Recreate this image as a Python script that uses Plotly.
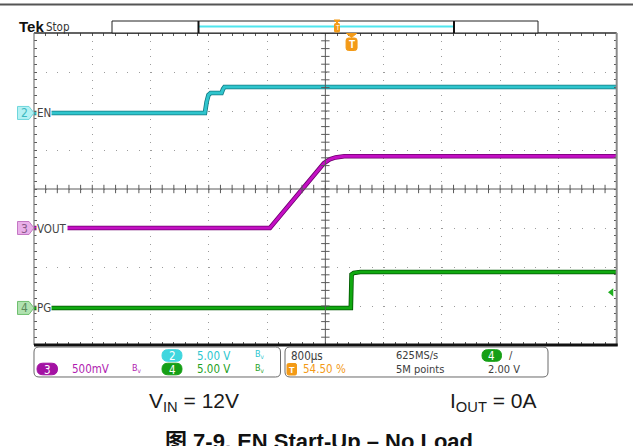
import numpy as np
import plotly.graph_objects as go

W, H = 633, 446

# Timebase / display
TIME_PER_DIV = 0.8          # ms per division (800 µs)
N_XDIV, N_YDIV = 10, 8
TRIGGER_PCT = 54.50         # trigger position, % of record

# Channel settings: volts/div and vertical position (divisions)
EN_SCALE, EN_POS = 5.0, 1.95
VOUT_SCALE, VOUT_POS = 0.5, -1.0
PG_SCALE, PG_POS = 5.0, -3.05
TRIG_LEVEL = 2.0            # V, on PG (ch4)

# Waveforms: time in ms relative to trigger, value in volts
EN_T = [-4.36, -2.013, -1.99, -1.965, -1.935, -1.785, -1.765, -1.745, 3.64]
EN_V = [0.0, 0.0, 1.4, 2.3, 2.56, 2.56, 3.05, 3.33, 3.33]

VOUT_T = [-4.36, -1.121, -0.38, -0.30, -0.22, -0.10, 3.64]
VOUT_V = [0.0, 0.0, 0.83, 0.88, 0.905, 0.92, 0.92]

PG_T = [-4.36, -0.01, 0.0, 0.03, 0.12, 3.64]
PG_V = [0.0, 0.0, 4.3, 4.5, 4.6, 4.6]

# Screen geometry (pixels)
X0, X1, Y0, Y1 = 34.0, 616.7, 33.0, 345.0

T_START = -TRIGGER_PCT / 100 * N_XDIV * TIME_PER_DIV
T_END = T_START + N_XDIV * TIME_PER_DIV
T_CENTER = T_START + N_XDIV / 2 * TIME_PER_DIV

UI_FONT = "Liberation Sans Narrow, DejaVu Sans Condensed, Liberation Sans, Arial"
DOC_FONT = "Liberation Sans, Arial, Noto Sans CJK SC"
UI_SIZE = 11

CYAN_TXT = "#2cc6cf"
MAG_TXT = "#b01cb0"
GRN_TXT = "#1f9f1f"
ORANGE = "#f39a17"
GRAY_TXT = "#3c3c3c"


def px(x):
    return x / W


def py(y):
    return 1 - y / H


def to_div(volts, scale, pos):
    return [v / scale + pos for v in volts]


def div_to_pix_y(d):
    return Y0 + (N_YDIV / 2 - d) * (Y1 - Y0) / N_YDIV


def time_to_pix_x(t):
    return X0 + (t - T_START) / (T_END - T_START) * (X1 - X0)


def pix_x_to_time(x):
    return T_START + (x - X0) / (X1 - X0) * (T_END - T_START)


def rrect_path(x0, y0, x1, y1, r):
    pts = [
        ("M", x0 + r, y0), ("L", x1 - r, y0), ("Q", x1, y0, x1, y0 + r),
        ("L", x1, y1 - r), ("Q", x1, y1, x1 - r, y1), ("L", x0 + r, y1),
        ("Q", x0, y1, x0, y1 - r), ("L", x0, y0 + r), ("Q", x0, y0, x0 + r, y0),
    ]
    out = []
    for p in pts:
        cmd = p[0]
        coords = p[1:]
        s = []
        for i in range(0, len(coords), 2):
            s.append(f"{px(coords[i]):.5f},{py(coords[i + 1]):.5f}")
        out.append(cmd + " ".join(s))
    return " ".join(out) + " Z"


def poly_path(points):
    s = "M" + " L".join(f"{px(x):.5f},{py(y):.5f}" for x, y in points)
    return s + " Z"


def text_at(text, x, y, color, size, family=UI_FONT, xanchor="left", bg=None):
    a = dict(text=text, x=px(x), y=py(y), xref="paper", yref="paper",
             xanchor=xanchor, yanchor="middle", showarrow=False,
             font=dict(family=family, size=size, color=color))
    if bg:
        a["bgcolor"] = bg
        a["borderpad"] = 0
    return a


fig = go.Figure()

# Waveforms: a dark edge under a bright core, as on the scope display
channels = [
    (EN_T, to_div(EN_V, EN_SCALE, EN_POS), "#137a83", "#2fc5cd"),
    (VOUT_T, to_div(VOUT_V, VOUT_SCALE, VOUT_POS), "#6e006e", "#c40fc4"),
    (PG_T, to_div(PG_V, PG_SCALE, PG_POS), "#005500", "#10a910"),
]
for t, d, edge, core in channels:
    fig.add_trace(go.Scatter(x=t, y=d, mode="lines", line=dict(color=edge, width=4.6),
                             hoverinfo="skip", showlegend=False))
    fig.add_trace(go.Scatter(x=t, y=d, mode="lines", line=dict(color=core, width=3),
                             hoverinfo="skip", showlegend=False))

# Minor tick marks on the centre crosshair
minor_t = [T_START + k * TIME_PER_DIV / 5 for k in range(N_XDIV * 5 + 1)]
minor_d = [-N_YDIV / 2 + k * 0.2 for k in range(N_YDIV * 5 + 1)]
fig.add_trace(go.Scatter(x=minor_t, y=[0] * len(minor_t), mode="markers",
                         marker=dict(symbol="line-ns", size=6, line=dict(color="#5a5a5a", width=1)),
                         hoverinfo="skip", showlegend=False))
fig.add_trace(go.Scatter(x=[T_CENTER] * len(minor_d), y=minor_d, mode="markers",
                         marker=dict(symbol="line-ew", size=6, line=dict(color="#5a5a5a", width=1)),
                         hoverinfo="skip", showlegend=False))

# Trigger level indicator (right edge)
fig.add_trace(go.Scatter(x=[pix_x_to_time(611.5)], y=[TRIG_LEVEL / PG_SCALE + PG_POS],
                         mode="markers", cliponaxis=False,
                         marker=dict(symbol="triangle-left", size=7, color="#1fae1f"),
                         hoverinfo="skip", showlegend=False))

shapes = []
annotations = []

# Centre crosshair
shapes.append(dict(type="line", xref="x", yref="y", x0=T_CENTER, x1=T_CENTER, y0=-4, y1=4,
                   line=dict(color="#5a5a5a", width=1)))
shapes.append(dict(type="line", xref="x", yref="y", x0=T_START, x1=T_END, y0=0, y1=0,
                   line=dict(color="#5a5a5a", width=1)))

# Screen border
shapes += [
    dict(type="line", xref="paper", yref="paper", x0=px(X0), x1=px(X1), y0=py(Y0), y1=py(Y0),
         line=dict(color="#2f2f2f", width=1.5)),
    dict(type="line", xref="paper", yref="paper", x0=px(X0), x1=px(X0), y0=py(Y0), y1=py(Y1),
         line=dict(color="#7a7a7a", width=1.2)),
    dict(type="line", xref="paper", yref="paper", x0=px(X1), x1=px(X1), y0=py(Y0), y1=py(Y1 + 1),
         line=dict(color="#8a8a8a", width=2)),
    dict(type="line", xref="paper", yref="paper", x0=px(X0), x1=px(X1 + 1), y0=py(Y1), y1=py(Y1),
         line=dict(color="#111111", width=3)),
]

# Top rule of the screenshot
shapes.append(dict(type="line", xref="paper", yref="paper", x0=0, x1=1, y0=py(4.5), y1=py(4.5),
                   line=dict(color="#555555", width=2)))

# Record view bar
shapes.append(dict(type="rect", xref="paper", yref="paper", x0=px(112), x1=px(538),
                   y0=py(33), y1=py(21), line=dict(color="#222222", width=1), fillcolor="white"))
shapes.append(dict(type="line", xref="paper", yref="paper", x0=px(198.5), x1=px(454),
                   y0=py(26.5), y1=py(26.5), line=dict(color="#4fe6ee", width=2)))
for xv in (198.5, 454):
    shapes.append(dict(type="line", xref="paper", yref="paper", x0=px(xv), x1=px(xv),
                       y0=py(21), y1=py(33), line=dict(color="#111111", width=2)))
# Trigger marker in the record bar
shapes.append(dict(type="path", xref="paper", yref="paper", line=dict(color=ORANGE, width=1),
                   fillcolor=ORANGE,
                   path=poly_path([(334, 20), (340, 20), (337, 23)])))
shapes.append(dict(type="path", xref="paper", yref="paper", line=dict(color=ORANGE, width=1),
                   fillcolor=ORANGE, path=rrect_path(334.5, 23.5, 339.5, 32, 1)))
annotations.append(text_at("T", 337, 28, "white", 7, xanchor="center"))

# Trigger position marker below the top border
tx = time_to_pix_x(0.0)
shapes.append(dict(type="path", xref="paper", yref="paper", line=dict(color=ORANGE, width=1),
                   fillcolor=ORANGE, path=poly_path([(tx - 5, 33.5), (tx + 5, 33.5), (tx, 37.5)])))
shapes.append(dict(type="path", xref="paper", yref="paper", line=dict(color=ORANGE, width=1),
                   fillcolor=ORANGE, path=rrect_path(tx - 5.5, 38, tx + 5.5, 50.5, 2.5)))
annotations.append(text_at("<b>T</b>", tx, 44.5, "white", 10, family=DOC_FONT, xanchor="center"))

# Tek / Stop
annotations.append(text_at("<b>Tek</b>", 16.5, 27, "#111111", 15, family="Liberation Sans, Arial"))
annotations.append(text_at("Stop", 43.5, 27, "#333333", 11.5))

# Channel badges and trace labels
badges = [
    ("2", "EN", EN_POS, "#b4f1f3", "#6fd6dc", "#3cb8c0"),
    ("3", "VOUT", VOUT_POS, "#e9b0e9", "#c477c4", "#8a5a8a"),
    ("4", "PG", PG_POS, "#b0e2b0", "#6fbf6f", "#5a8a5a"),
]
for num, name, pos, fill, edge, txt in badges:
    yc = div_to_pix_y(pos)
    annotations.append(text_at(name, 35.5, yc + 0.5, "#444444", UI_SIZE + 0.5, bg="white"))
    shapes.append(dict(type="path", xref="paper", yref="paper", fillcolor=fill,
                       line=dict(color=edge, width=1),
                       path=poly_path([(17.5, yc - 6.5), (29, yc - 6.5), (34, yc),
                                       (29, yc + 6.5), (17.5, yc + 6.5)])))
    annotations.append(text_at(num, 24.5, yc + 0.5, txt, 12, xanchor="center"))

# Readout panels
shapes.append(dict(type="path", xref="paper", yref="paper", line=dict(color="#6a6a6a", width=1),
                   fillcolor="rgba(0,0,0,0)", path=rrect_path(34, 347, 280.5, 377, 5)))
shapes.append(dict(type="path", xref="paper", yref="paper", line=dict(color="#6a6a6a", width=1),
                   fillcolor="rgba(0,0,0,0)", path=rrect_path(285, 347, 548, 377, 5)))

pills = [
    ("2", 162, 182, 355.5, "#3fd6de"),
    ("3", 37, 57.5, 369, "#a312a3"),
    ("4", 162, 182, 369, "#159f15"),
    ("4", 482, 501.5, 355.5, "#159f15"),
]
for num, xa, xb, yc, col in pills:
    shapes.append(dict(type="path", xref="paper", yref="paper", line=dict(color=col, width=1),
                       fillcolor=col, path=rrect_path(xa, yc - 5.8, xb, yc + 5.8, 5.8)))
    annotations.append(text_at(num, (xa + xb) / 2, yc + 0.5, "white", 11.5, xanchor="center"))

readouts = [
    ("5.00 V", 195, 355.5, CYAN_TXT, UI_SIZE + 0.5),
    ("B<sub>v</sub>", 253, 354.5, CYAN_TXT, 9),
    ("500mV", 69.5, 369, MAG_TXT, UI_SIZE + 0.5),
    ("B<sub>v</sub>", 130, 368, MAG_TXT, 9),
    ("5.00 V", 195, 369, GRN_TXT, UI_SIZE + 0.5),
    ("B<sub>v</sub>", 253, 368, GRN_TXT, 9),
    ("800µs", 288.5, 355.5, GRAY_TXT, UI_SIZE + 0.5),
    ("54.50 %", 301, 369, ORANGE, UI_SIZE + 0.5),
    ("625MS/s", 393.5, 355.5, GRAY_TXT, UI_SIZE),
    ("5M points", 393.5, 369, GRAY_TXT, UI_SIZE),
    ("/", 507, 355, GRAY_TXT, UI_SIZE),
    ("2.00 V", 486, 369, GRAY_TXT, UI_SIZE),
]
for text, xl, yc, col, size in readouts:
    annotations.append(text_at(text, xl, yc, col, size))

# Trigger-position icon in the horizontal readout
shapes.append(dict(type="path", xref="paper", yref="paper", line=dict(color=ORANGE, width=1),
                   fillcolor=ORANGE, path=rrect_path(287, 363.5, 296.5, 375, 1.5)))
annotations.append(text_at("<b>T</b>", 291.8, 369.5, "white", 9, family=DOC_FONT, xanchor="center"))

# Test conditions and caption
annotations.append(text_at("V<sub>IN</sub> = 12V", 147, 402, "#1a1a1a", 21, family=DOC_FONT))
annotations.append(text_at("I<sub>OUT</sub> = 0A", 448, 402, "#1a1a1a", 21, family=DOC_FONT))
annotations.append(text_at("<b>图 7-9. EN Start-Up – No Load</b>", 319, 441, "#111111", 22,
                           family=DOC_FONT, xanchor="center"))

fig.update_layout(
    width=W, height=H, autosize=False,
    margin=dict(l=0, r=0, t=0, b=0),
    paper_bgcolor="white", plot_bgcolor="white",
    showlegend=False,
    shapes=shapes, annotations=annotations,
    xaxis=dict(
        domain=[px(X0), px(X1)], range=[T_START, T_END],
        tick0=T_START, dtick=TIME_PER_DIV,
        showgrid=True, gridcolor="#9c9c9c", gridwidth=1, griddash="1px,6.8px",
        ticks="inside", ticklen=3, tickcolor="#5a5a5a", tickwidth=1, mirror="allticks",
        minor=dict(tick0=T_START, dtick=TIME_PER_DIV / 5, ticks="inside", ticklen=3,
                   tickcolor="#5a5a5a", showgrid=False),
        showticklabels=False, zeroline=False, showline=False, fixedrange=True,
    ),
    yaxis=dict(
        domain=[py(Y1), py(Y0)], range=[-N_YDIV / 2, N_YDIV / 2],
        tick0=-N_YDIV / 2, dtick=1,
        showgrid=True, gridcolor="#9c9c9c", gridwidth=1, griddash="1px,10.66px",
        ticks="inside", ticklen=3, tickcolor="#5a5a5a", tickwidth=1, mirror="allticks",
        minor=dict(tick0=-N_YDIV / 2, dtick=0.2, ticks="inside", ticklen=3,
                   tickcolor="#5a5a5a", showgrid=False),
        showticklabels=False, zeroline=False, showline=False, fixedrange=True,
    ),
)

fig.write_html("out.html")
